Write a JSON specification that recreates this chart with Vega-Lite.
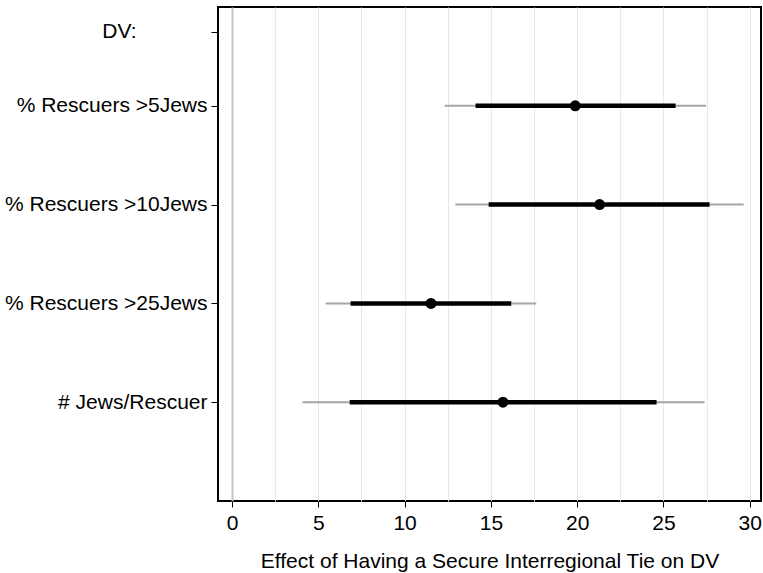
{
  "$schema": "https://vega.github.io/schema/vega-lite/v6.json",
  "width": 543,
  "height": 494,
  "autosize": {"type": "none"},
  "padding": {"left": 218, "top": 7, "right": 2, "bottom": 72},
  "background": "white",
  "config": {
    "font": "Liberation Sans",
    "view": {"stroke": "black", "strokeWidth": 2},
    "axis": {"labelFont": "Liberation Sans", "titleFont": "Liberation Sans", "labelColor": "black", "titleColor": "black", "tickColor": "black", "domain": false, "labelLimit": 400}
  },
  "data": {
    "values": [
      {"dv": "% Rescuers >5Jews", "pos": 4, "est": 19.89, "lo90": 14.11, "hi90": 25.70, "lo95": 12.32, "hi95": 27.47},
      {"dv": "% Rescuers >10Jews", "pos": 3, "est": 21.30, "lo90": 14.87, "hi90": 27.67, "lo95": 12.94, "hi95": 29.65},
      {"dv": "% Rescuers >25Jews", "pos": 2, "est": 11.53, "lo90": 6.87, "hi90": 16.18, "lo95": 5.43, "hi95": 17.63},
      {"dv": "# Jews/Rescuer", "pos": 1, "est": 15.70, "lo90": 6.82, "hi90": 24.60, "lo95": 4.08, "hi95": 27.38}
    ]
  },
  "encoding": {
    "y": {
      "field": "pos", "type": "quantitative",
      "scale": {"domain": [0, 5], "nice": false, "zero": false},
      "axis": {
        "title": null,
        "values": [1, 2, 3, 4, 4.75],
        "grid": false,
        "labelExpr": "datum.value == 1 ? '# Jews/Rescuer' : datum.value == 2 ? '% Rescuers >25Jews' : datum.value == 3 ? '% Rescuers >10Jews' : datum.value == 4 ? '% Rescuers >5Jews' : 'DV:'",
        "labelFontSize": 21,
        "labelLimit": 400,
        "tickSize": 7,
        "tickWidth": 1,
        "labelPadding": {"condition": {"test": "datum.value > 4.5", "value": 75}, "value": 4}
      }
    }
  },
  "layer": [
    {
      "mark": {"type": "rule", "color": "#a6a6a6", "strokeWidth": 2},
      "encoding": {
        "x": {
          "field": "lo95", "type": "quantitative",
          "scale": {"domain": [-0.81, 30.65], "nice": false, "zero": false},
          "axis": {
            "title": "Effect of Having a Secure Interregional Tie on DV",
            "titleFontSize": 21,
            "titleFontWeight": "normal",
            "titlePadding": 17,
            "values": [0, 2.5, 5, 7.5, 10, 12.5, 15, 17.5, 20, 22.5, 25, 27.5, 30],
            "labelExpr": "datum.value % 5 == 0 ? datum.label : ''",
            "labelFontSize": 21,
            "labelPadding": 5,
            "tickSize": 6,
            "tickWidth": 1,
            "tickOpacity": {"condition": {"test": "datum.value % 5 != 0", "value": 0}, "value": 1},
            "grid": true,
            "gridColor": {"condition": {"test": "datum.value == 0", "value": "#c4c4c4"}, "value": "#e8e8e8"},
            "gridWidth": {"condition": {"test": "datum.value == 0", "value": 2}, "value": 1}
          }
        },
        "x2": {"field": "hi95"}
      }
    },
    {
      "mark": {"type": "rule", "color": "black", "strokeWidth": 4.5},
      "encoding": {
        "x": {"field": "lo90", "type": "quantitative"},
        "x2": {"field": "hi90"}
      }
    },
    {
      "mark": {"type": "point", "filled": true, "color": "black", "opacity": 1, "size": 120},
      "encoding": {
        "x": {"field": "est", "type": "quantitative"}
      }
    }
  ]
}
